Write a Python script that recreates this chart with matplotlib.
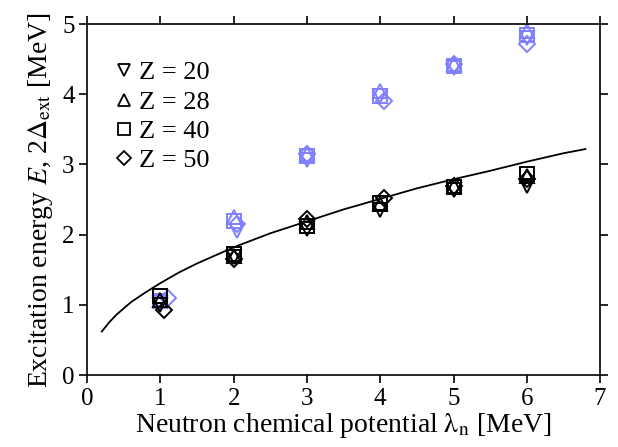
import numpy as np
import matplotlib
matplotlib.use("Agg")
import matplotlib.pyplot as plt
from matplotlib.lines import Line2D

plt.rcParams["font.family"] = ["Liberation Serif", "DejaVu Serif"]
plt.rcParams["mathtext.fontset"] = "stix"

# excitation energy E (black) and 2*Delta_ext (blue), per proton number Z
LAMBDA = [1, 2, 3, 4, 5, 6]
LAMBDA_50 = [1.05, 2, 3, 4.05, 5, 6]

E_20 = [1.00, 1.68, 2.08, 2.35, 2.63, 2.70]
E_28 = [1.07, 1.70, 2.18, 2.43, 2.70, 2.83]
E_40 = [1.13, 1.73, 2.12, 2.45, 2.68, 2.87]
E_50 = [0.93, 1.65, 2.22, 2.52, 2.70, 2.80]

LAMBDA_D20 = [1, 2.05, 3, 4, 5, 6]
LAMBDA_D50 = [1.1, 2.05, 3, 4.05, 5, 6]
D_20 = [1.02, 2.05, 3.07, 3.97, 4.37, 4.80]
D_28 = [1.07, 2.25, 3.15, 4.05, 4.43, 4.90]
D_40 = [1.05, 2.20, 3.12, 3.97, 4.40, 4.85]
D_50 = [1.10, 2.15, 3.15, 3.90, 4.43, 4.72]

# smooth reference curve
CURVE_X = [0.2, 0.3, 0.4, 0.6, 0.8, 1.0, 1.25, 1.5, 2.0, 2.5, 3.0, 3.5,
           4.0, 4.5, 5.0, 5.5, 6.0, 6.5, 6.8]
CURVE_Y = [0.62, 0.75, 0.86, 1.04, 1.18, 1.31, 1.46, 1.59, 1.82, 2.02, 2.19,
           2.36, 2.51, 2.66, 2.79, 2.91, 3.04, 3.16, 3.22]

BLUE = "#8080ff"
LABELS = ["Z = 20", "Z = 28", "Z = 40", "Z = 50"]
MARKERS = ["v", "^", "s", "D"]

fig = plt.figure(figsize=(6.18, 4.47), dpi=100)
ax = fig.add_axes([0.141, 0.161, 0.830, 0.785])

ax.plot(CURVE_X, CURVE_Y, "-", color="black", lw=1.3)

blue_sets = [(LAMBDA_D20, D_20), (LAMBDA, D_28), (LAMBDA, D_40), (LAMBDA_D50, D_50)]
black_sets = [(LAMBDA, E_20), (LAMBDA, E_28), (LAMBDA, E_40), (LAMBDA_50, E_50)]
for (x, y), m in zip(blue_sets, MARKERS):
    ms = 8.5 if m == "D" else 10
    ax.plot(x, y, m, mfc="none", mec=BLUE, mew=1.4, ms=ms, ls="none")
for (x, y), m in zip(black_sets, MARKERS):
    ms = 8.5 if m == "D" else 10
    ax.plot(x, y, m, mfc="none", mec="black", mew=1.4, ms=ms, ls="none")

handles = [Line2D([], [], marker=m, ls="none", mfc="none", mec="black",
                  mew=1.3, ms=7 if m == "D" else 8) for m in MARKERS]
ax.legend(handles, LABELS, loc="upper left", frameon=False, fontsize=19,
          handlelength=0.6, handletextpad=0.3, labelspacing=0.22,
          borderaxespad=0.0, bbox_to_anchor=(0.035, 0.925))

ax.set_xlim(0, 7)
ax.set_ylim(0, 5)
ax.set_xticks(range(0, 8))
ax.set_yticks(range(0, 6))
ax.tick_params(direction="out", length=6, width=1.2, labelsize=18,
               top=True, right=True, pad=3)
for s in ax.spines.values():
    s.set_linewidth(1.2)

ax.set_xlabel(r"Neutron chemical potential $\mathrm{\lambda_n}$ [MeV]", fontsize=20,
              labelpad=1)
ax.set_ylabel(r"Excitation energy $E$, 2$\Delta_{\mathrm{ext}}$ [MeV]", fontsize=20,
              labelpad=5)

fig.savefig("out.png", dpi=100, facecolor="white")
